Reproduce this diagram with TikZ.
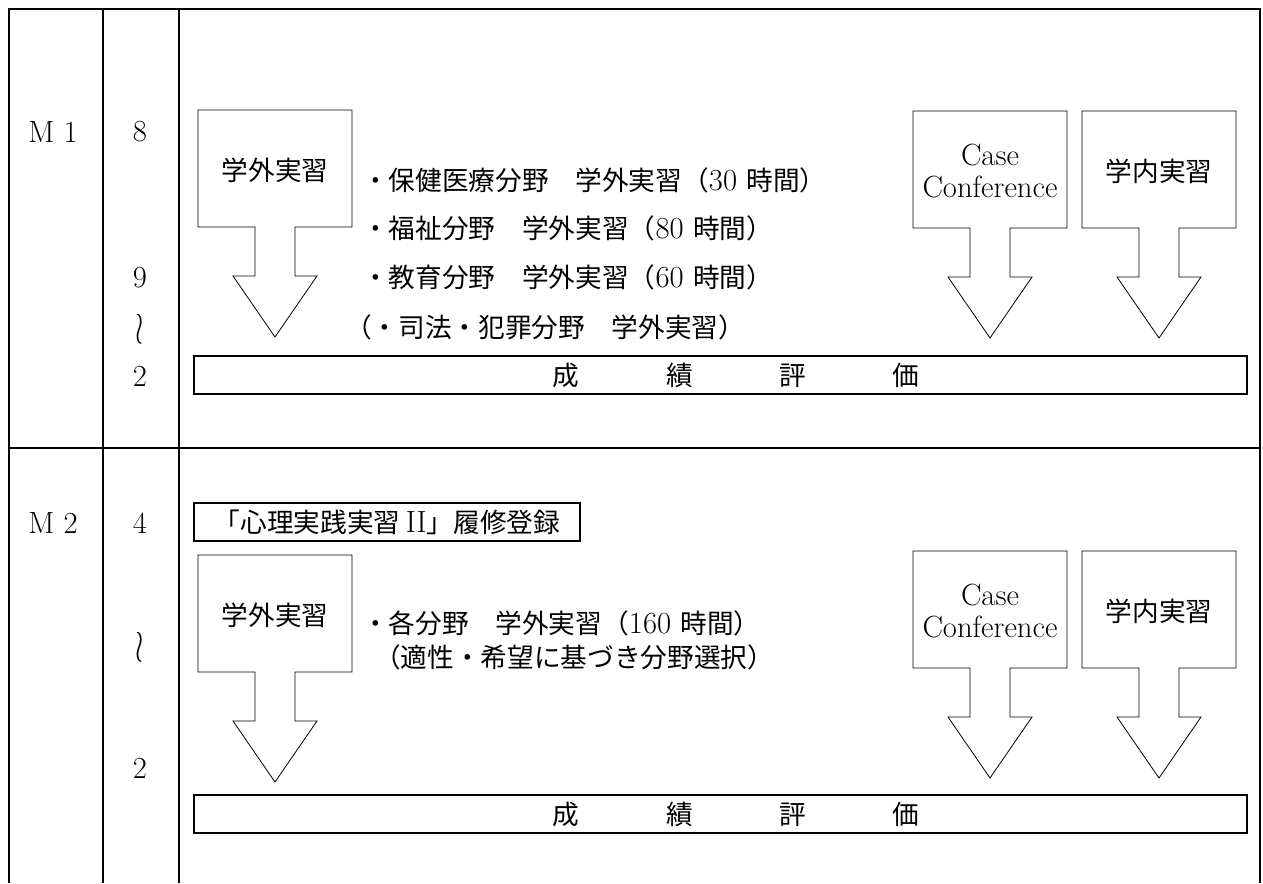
\documentclass[tikz,border=0pt]{standalone}
\usepackage{fontspec}
\usepackage{graphicx}
\newfontfamily\jp{Noto Sans CJK JP}
\usetikzlibrary{positioning}

\newcommand{\bigfont}{\fontsize{23}{23.5}\selectfont}
\newcommand{\ja}[1]{{\fontsize{20}{23.5}\selectfont\jp #1}}
\newcommand{\waved}{\scalebox{0.9}[1.35]{$\wr$}}
% block arrow pointing down: name, centre x, top y, text
\newcommand{\blockarrow}[4]{
  \draw[arrowline] (#2-77,#3) -- (#2+77,#3) -- (#2+77,#3+117) -- (#2+20,#3+117)
    -- (#2+20,#3+166) -- (#2+42,#3+166) -- (#2,#3+227) -- (#2-42,#3+166)
    -- (#2-20,#3+166) -- (#2-20,#3+117) -- (#2-77,#3+117) -- cycle;
  \node[lbl,align=center] (#1) at (#2,#3+60) {#4};
}

\begin{document}
\begin{tikzpicture}[x=0.75pt,y=-0.75pt,
    tbl/.style={line width=1.5pt},
    gradebox/.style={line width=1.5pt},
    arrowline/.style={line width=0.6pt},
    lbl/.style={font=\bigfont,inner sep=0pt}]
  \useasboundingbox (0,0) rectangle (1263,883);

  % table
  \draw[tbl] (9,883) -- (9,9) -- (1260,9) -- (1260,883);
  \draw[tbl] (103,9) -- (103,883);
  \draw[tbl] (179,9) -- (179,883);
  \draw[tbl] (9,448) -- (1260,448);

  % M1
  \node[lbl] (m1) at (53,132) {M\hspace{0.3em}1};
  \node[lbl] (m1a) at (140,132) {8};
  \node[lbl] (m1b) at (140,278) {9};
  \node[lbl] (m1c) at (140,329) {\waved};
  \node[lbl] (m1d) at (140,376) {2};

  \blockarrow{out1}{275}{110}{\ja{学外実習}}
  \blockarrow{case1}{990}{111}{Case\\Conference}
  \blockarrow{in1}{1159}{111}{\ja{学内実習}}

  \node[lbl,anchor=west] (f1) at (362,180) {\ja{・保健医療分野　学外実習（}30 \ja{時間）}};
  \node[lbl,anchor=west] (f2) at (362,228) {\ja{・福祉分野　学外実習（}80 \ja{時間）}};
  \node[lbl,anchor=west] (f3) at (362,277) {\ja{・教育分野　学外実習（}60 \ja{時間）}};
  \node[lbl,anchor=west] (f4) at (345,327) {\ja{（・司法・犯罪分野　学外実習）}};

  \draw[gradebox] (194,356) rectangle (1247,394);
  \node[lbl] (g1) at (736,375) {\ja{成\hspace{65pt}績\hspace{65pt}評\hspace{65pt}価}};

  % M2
  \node[lbl] (m2) at (53,523) {M\hspace{0.3em}2};
  \node[lbl] (m2a) at (140,523) {4};
  \node[lbl] (m2b) at (140,647) {\waved};
  \node[lbl] (m2c) at (140,768) {2};

  \node[lbl,draw,line width=1.5pt,minimum width=289.5pt,minimum height=28.5pt] (reg) at (387,522)
    {\ja{「心理実践実習}\,II\ja{」履修登録}};

  \blockarrow{out2}{275}{555}{\ja{学外実習}}
  \blockarrow{case2}{990}{551}{Case\\Conference}
  \blockarrow{in2}{1159}{551}{\ja{学内実習}}

  \node[lbl,anchor=west] (h1) at (362,623) {\ja{・各分野　学外実習（}160 \ja{時間）}};
  \node[lbl,anchor=west] (h2) at (374,657) {\ja{（適性・希望に基づき分野選択）}};

  \draw[gradebox] (194,795) rectangle (1247,833);
  \node[lbl] (g2) at (736,814) {\ja{成\hspace{65pt}績\hspace{65pt}評\hspace{65pt}価}};
\end{tikzpicture}
\end{document}
